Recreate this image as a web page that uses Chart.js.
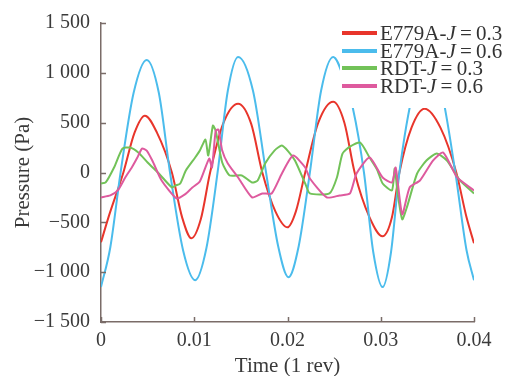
<!DOCTYPE html>
<html>
<head>
<meta charset="utf-8">
<script src="https://cdn.jsdelivr.net/npm/chart.js@4/dist/chart.umd.min.js"></script>
<style>
  html, body { margin: 0; padding: 0; background: #fff; }
  #wrap { position: relative; width: 512px; height: 376px; }
  #legend { position: absolute; left: 340px; top: 24px; width: 172px; height: 84px; background: #fff;
    font-family: "Liberation Serif", "Times New Roman", serif; font-size: 21px; color: #333; }
  .row { position: absolute; left: 0; height: 18px; line-height: 18px; white-space: nowrap; }
  .sw { position: absolute; left: 2px; top: 7px; width: 35px; height: 4px; }
  .tx { position: absolute; left: 40px; top: 0; }
</style>
</head>
<body>
<div id="wrap">
  <canvas id="c" width="512" height="376"></canvas>
  <div id="legend"></div>
</div>
<script>
// ---- data (time in s, pressure in Pa) ----
const seriesNames = ["E779A-J=0.3", "E779A-J=0.6", "RDT-J=0.3", "RDT-J=0.6"];
const xTickLabels = ["0", "0.01", "0.02", "0.03", "0.04"];
const yTickLabels = ["\u22121 500", "\u22121 000", "\u2212500", "0", "500", "1 000", "1 500"];

const redT = [0, 0.0008, 0.0024, 0.0036, 0.0047, 0.0060, 0.0076, 0.0087, 0.0097, 0.0107, 0.0117, 0.0131, 0.0147, 0.0161, 0.0173, 0.0187, 0.0200, 0.0209, 0.0219, 0.0233, 0.0249, 0.0261, 0.0272, 0.0288, 0.0302, 0.0312, 0.0320, 0.0333, 0.0347, 0.0364, 0.0381, 0.0392, 0.0400];
const redP = [-700, -450, 0, 400, 570, 400, 0, -450, -660, -470, 0, 490, 690, 490, 0, -390, -550, -390, 0, 500, 710, 500, 0, -450, -640, -450, 0, 450, 640, 450, 0, -450, -710];

const blueT = [0, 0.0010, 0.0021, 0.0035, 0.0049, 0.0062, 0.0074, 0.0088, 0.0101, 0.0113, 0.0125, 0.0136, 0.0147, 0.0163, 0.0177, 0.0190, 0.0201, 0.0212, 0.0224, 0.0236, 0.0249, 0.0262, 0.0270, 0.0282, 0.0292, 0.0302, 0.0311, 0.0320, 0.0335, 0.0350, 0.0365, 0.0380, 0.0392, 0.0400];
const blueP = [-1150, -750, 0, 800, 1130, 800, 0, -780, -1080, -760, 0, 820, 1160, 820, 0, -740, -1050, -740, 0, 820, 1160, 900, 650, 0, -800, -1150, -800, 0, 820, 1150, 820, 0, -780, -1080];

const greenT = [0, 0.0005, 0.0014, 0.0023, 0.0031, 0.0040, 0.0050, 0.0063, 0.0076, 0.0080, 0.0085, 0.0091, 0.0101, 0.0106, 0.0112, 0.0115, 0.0120, 0.0123, 0.0130, 0.0138, 0.0151, 0.0162, 0.0168, 0.0176, 0.0186, 0.0194, 0.0201, 0.0208, 0.0219, 0.0224, 0.0245, 0.0253, 0.0259, 0.0267, 0.0278, 0.0288, 0.0296, 0.0302, 0.0312, 0.0315, 0.0318, 0.0323, 0.0328, 0.0339, 0.0349, 0.0360, 0.0371, 0.0385, 0.0400];
const greenP = [-110, -100, 50, 240, 250, 200, 100, -20, -150, -130, -110, 20, 150, 220, 330, 170, 470, 420, 100, -30, -30, -100, -80, 90, 220, 270, 210, 120, -110, -210, -210, -50, 190, 260, 300, 150, 30, -110, -180, 40, -200, -470, -350, -10, 120, 190, 120, -80, -210];

const pinkT = [0, 0.0010, 0.0018, 0.0026, 0.0033, 0.0039, 0.0044, 0.0049, 0.0055, 0.0065, 0.0081, 0.0090, 0.0098, 0.0106, 0.0116, 0.0119, 0.0123, 0.0126, 0.0130, 0.0136, 0.0147, 0.0162, 0.0173, 0.0183, 0.0194, 0.0206, 0.0219, 0.0224, 0.0242, 0.0256, 0.0267, 0.0274, 0.0288, 0.0302, 0.0312, 0.0316, 0.0323, 0.0331, 0.0342, 0.0356, 0.0367, 0.0382, 0.0400];
const pinkP = [-250, -230, -180, -50, 50, 150, 240, 220, 120, -80, -260, -220, -150, -90, 140, 50, 420, 430, 220, 90, -50, -250, -210, -210, -10, 170, 50, -60, -250, -230, -210, -10, 150, -50, -100, 50, -420, -150, -80, 120, 200, -50, -180];

const colors = ["#e8352b", "#4bbcec", "#72c258", "#de5a9e"];

function pts(t, p) { return t.map((v, i) => ({ x: v, y: p[i] })); }

// ---- legend (HTML, with italic J) ----
const leg = document.getElementById('legend');
seriesNames.forEach((n, i) => {
  const [a, b] = n.split('J');
  const row = document.createElement('div');
  row.className = 'row';
  row.style.top = (i * 17.5) + 'px';
  row.innerHTML = '<div class="sw" style="background:' + colors[i] + '"></div><div class="tx">' + a + '<i>J</i>' + b.replace('=', '\u2009=\u2009') + '</div>';
  leg.appendChild(row);
});

const axisColor = '#7a6c68';
const textColor = '#3a3a3a';
const fontFam = '"Liberation Serif", "Times New Roman", serif';

const innerTicks = {
  id: 'innerTicks',
  afterDraw(chart) {
    const ctx = chart.ctx, xs = chart.scales.x, ys = chart.scales.y;
    ctx.save();
    ctx.strokeStyle = axisColor;
    ctx.lineWidth = 1.5;
    ctx.beginPath();
    ys.ticks.forEach(t => {
      const y = Math.round(ys.getPixelForValue(t.value)) + 0.5;
      ctx.moveTo(xs.left, y); ctx.lineTo(xs.left + 5, y);
    });
    xs.ticks.forEach(t => {
      const x = Math.round(xs.getPixelForValue(t.value)) + 0.5;
      ctx.moveTo(x, ys.bottom); ctx.lineTo(x, ys.bottom - 5);
    });
    ctx.stroke();
    ctx.restore();
  }
};

new Chart(document.getElementById('c'), {
  type: 'line',
  data: {
    datasets: [
      { label: seriesNames[0], data: pts(redT, redP), borderColor: colors[0], cubicInterpolationMode: 'monotone' },
      { label: seriesNames[1], data: pts(blueT, blueP), borderColor: colors[1], cubicInterpolationMode: 'monotone' },
      { label: seriesNames[2], data: pts(greenT, greenP), borderColor: colors[2], tension: 0.2 },
      { label: seriesNames[3], data: pts(pinkT, pinkP), borderColor: colors[3], tension: 0.2 }
    ].reverse()
  },
  options: {
    responsive: false,
    devicePixelRatio: 1,
    animation: false,
    elements: { point: { radius: 0 }, line: { borderWidth: 2 } },
    plugins: { legend: { display: false }, tooltip: { enabled: false } },
    layout: { padding: { left: 0, right: 38, top: 22, bottom: 0 }, autoPadding: false },
    scales: {
      x: {
        type: 'linear', min: 0, max: 0.04,
        grid: { display: false, drawTicks: false },
        border: { display: true, color: axisColor, width: 1.5 },
        ticks: { stepSize: 0.01, padding: 7, color: textColor, font: { family: fontFam, size: 20 },
          callback: (v, i) => xTickLabels[i] },
        title: { display: true, text: 'Time (1 rev)', color: textColor, font: { family: fontFam, size: 21 }, padding: { top: 0, bottom: -3 } },
        afterFit: s => { s.height = 54; }
      },
      y: {
        min: -1500, max: 1500,
        grid: { display: false, drawTicks: false },
        border: { display: true, color: axisColor, width: 1.5 },
        ticks: { stepSize: 500, padding: 11, color: textColor, font: { family: fontFam, size: 20 },
          callback: (v, i) => yTickLabels[i] },
        title: { display: true, text: 'Pressure (Pa)', color: textColor, font: { family: fontFam, size: 21 }, padding: { top: 11, bottom: 0 } },
        afterFit: s => { s.width = 101; }
      }
    }
  },
  plugins: [innerTicks]
});
</script>
</body>
</html>
